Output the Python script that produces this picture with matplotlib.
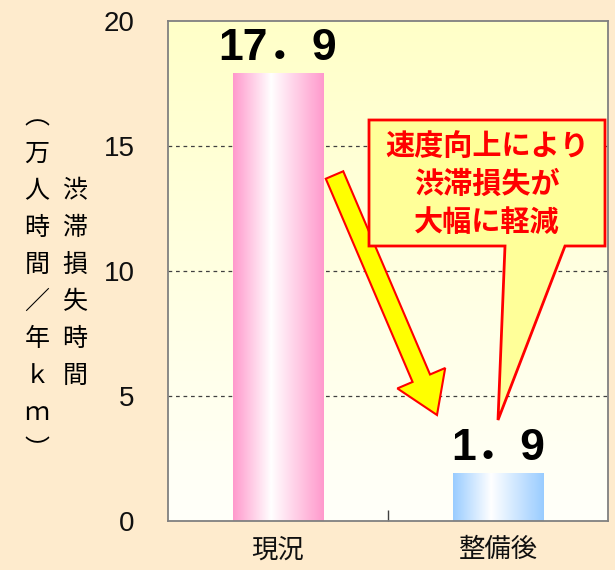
import matplotlib
matplotlib.use('Agg')
import matplotlib.pyplot as plt
import numpy as np
from matplotlib.colors import LinearSegmentedColormap
from matplotlib.patches import Polygon

plt.rcParams['font.family'] = ['Noto Sans CJK JP', 'DejaVu Sans']

# データ
categories = ['現況', '整備後']
values = [17.9, 1.9]
value_labels = ['17．9', '1．9']
bar_colors = ['#FF99CC', '#99CCFF']
y_ticks = [0, 5, 10, 15, 20]
ylabel_col1 = ['︵', '万', '人', '時', '間', '／', '年', 'ｋ', 'ｍ', '︶']
ylabel_col2 = ['渋', '滞', '損', '失', '時', '間']
callout_text = '速度向上により\n渋滞損失が\n大幅に軽減'

W, H = 615, 570
fig = plt.figure(figsize=(W / 100, H / 100), dpi=100)
fig.patch.set_facecolor('#FEEBCD')

# 軸の位置（ピクセル）
ax_l, ax_t, ax_r, ax_b = 168, 21, 608, 521
ax = fig.add_axes([ax_l / W, 1 - ax_b / H, (ax_r - ax_l) / W, (ax_b - ax_t) / H])
ax.set_xlim(-0.5, 1.5)
ax.set_ylim(0, 20)

# 背景グラデーション（上：薄黄 → 下：白）
bg = LinearSegmentedColormap.from_list('bg', ['#FFFFFA', '#FFFFC8'])
ax.imshow(np.linspace(0, 1, 256).reshape(-1, 1), aspect='auto', cmap=bg,
          extent=[-0.5, 1.5, 0, 20], origin='lower', zorder=0)

# グリッド
for v in y_ticks[1:-1]:
    ax.axhline(v, color='#404040', linewidth=0.9, linestyle=(0, (3, 3)), zorder=1)

# 棒（グラデーション）
bars = ax.bar(range(len(categories)), values, width=0.41, color='none', zorder=2)
for bar, c in zip(bars, bar_colors):
    cmap = LinearSegmentedColormap.from_list('g', [(0, c), (0.42, '#FFFFFF'), (1, c)])
    x0, w, h = bar.get_x(), bar.get_width(), bar.get_height()
    ax.imshow(np.linspace(0, 1, 256).reshape(1, -1), aspect='auto', cmap=cmap,
              extent=[x0, x0 + w, 0, h], origin='lower', zorder=2)

# 値ラベル
for i, (v, lab) in enumerate(zip(values, value_labels)):
    ax.annotate(lab, (i, v), xytext=(0, 3), textcoords='offset points',
                ha='center', va='bottom', fontsize=32, fontweight='bold', color='black',
                family=['Liberation Sans', 'Noto Sans CJK JP'], zorder=5)

ax.set_xlim(-0.5, 1.5)
ax.set_ylim(0, 20)

# 軸
for s in ax.spines.values():
    s.set_color('#808080')
    s.set_linewidth(1.3)
    s.set_zorder(6)
ax.set_yticks(y_ticks)
ax.set_yticklabels([str(t) for t in y_ticks], family='Liberation Sans', fontsize=20)
ax.tick_params(axis='y', length=0, pad=24, colors='#101010')
ax.set_xticks(range(len(categories)))
ax.set_xticklabels(categories, fontsize=19)
ax.tick_params(axis='x', length=0, pad=11, colors='#101010')
ax.set_xticks([0.5], minor=True)
ax.tick_params(axis='x', which='minor', direction='in', length=8, color='#404040', width=1)

# 縦書きの軸ラベル
row_y0, row_dy = 117, 37
for k, ch in enumerate(ylabel_col1):
    fig.text(37 / W, 1 - (row_y0 + k * row_dy) / H, ch, ha='center', va='center', fontsize=18)
for k, ch in enumerate(ylabel_col2):
    fig.text(75 / W, 1 - (row_y0 + (k + 2) * row_dy) / H, ch, ha='center', va='center', fontsize=18)


def px(points):
    # ピクセル座標 → 軸の比率座標
    return [((x - ax_l) / (ax_r - ax_l), (ax_b - y) / (ax_b - ax_t)) for x, y in points]


# 黄色の矢印
tail = np.array([334.5, 175.0])
tip = np.array([437.0, 415.0])
d = (tip - tail) / np.linalg.norm(tip - tail)
n = np.array([d[1], -d[0]])
hw, hh, hl = 9.5, 26, 40
base = tip - d * hl
arrow_pts = [tail + n * hw, base + n * hw, base + n * hh, tip,
             base - n * hh, base - n * hw, tail - n * hw]
ax.add_patch(Polygon(px(arrow_pts), closed=True, transform=ax.transAxes,
                     facecolor='#FFFF00', edgecolor='#FF0000', linewidth=1.5, zorder=7, clip_on=False))

# 吹き出し
callout_pts = [(369, 120), (605, 120), (605, 246), (565, 246), (498, 420), (505, 246), (369, 246)]
ax.add_patch(Polygon(px(callout_pts), closed=True, transform=ax.transAxes,
                     facecolor='#FFFF99', edgecolor='#FF0000', linewidth=2, zorder=7, clip_on=False))
cx, cy = px([(487, 184)])[0]
ax.text(cx, cy, callout_text, transform=ax.transAxes, ha='center', va='center',
        fontsize=21, fontweight='bold', color='#FF0000', linespacing=1.35, zorder=8)

fig.savefig('out.png', dpi=100, facecolor=fig.get_facecolor())
